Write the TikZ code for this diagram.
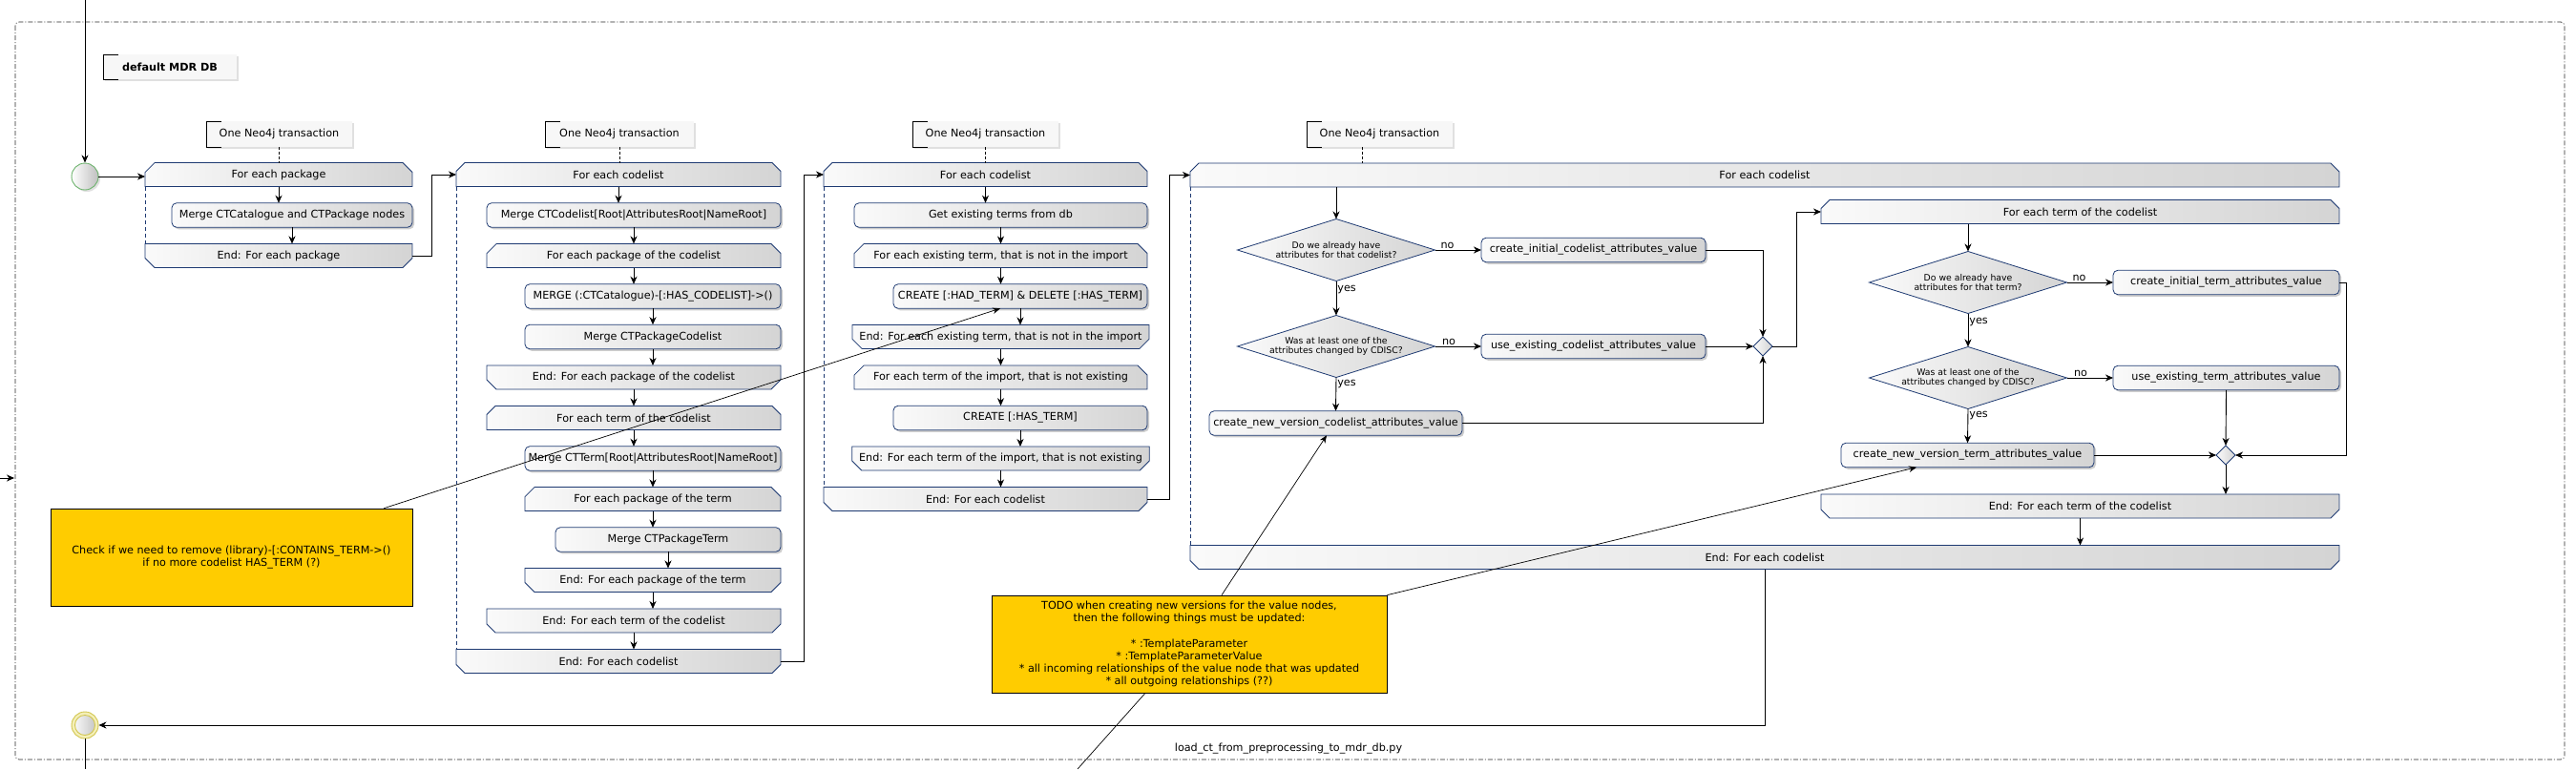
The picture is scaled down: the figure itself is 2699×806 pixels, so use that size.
\documentclass[tikz,border=0pt]{standalone}
\usepackage{fontspec}
\setmainfont{DejaVu Sans}
\usetikzlibrary{shapes.misc,shapes.geometric,arrows.meta,shadows,calc}
\definecolor{bordc}{HTML}{1E3A72}
\definecolor{boxl}{HTML}{FAFAFA}
\definecolor{boxr}{HTML}{D4D4D4}
\definecolor{notey}{HTML}{FFCC00}
\definecolor{hdrfill}{HTML}{F7F7F7}
\definecolor{startg}{HTML}{6DB36D}
\definecolor{endy}{HTML}{D2C650}
\definecolor{endyl}{HTML}{F4EFB8}
\newcommand\mfs{\fontsize{11.2}{13.3}\selectfont}
\newcommand\dfs{\fontsize{9.3}{10.8}\selectfont}
\newcommand\hdrbracket[1]{\draw[line width=0.8pt] ([xshift=16pt]#1.north west) -- (#1.north west) -- (#1.south west) -- ([xshift=16pt]#1.south west);}
\tikzset{
  arr/.style={line width=0.9pt, -{Stealth[length=8pt,width=7pt,inset=2.5pt]}},
  plain/.style={line width=0.9pt},
  notelink/.style={line width=0.7pt, -{Stealth[length=8pt,width=6.5pt,inset=2.5pt]}},
  noteline/.style={line width=0.7pt},
  base/.style={font=\mfs, inner sep=1pt, outer sep=0pt, draw=bordc, line width=0.8pt, left color=boxl, right color=boxr, text=black},
  loopstart/.style={base, chamfered rectangle, chamfered rectangle corners={north west,north east}, chamfered rectangle xsep=8pt, minimum height=25pt},
  loopend/.style={base, chamfered rectangle, chamfered rectangle corners={south west,south east}, chamfered rectangle xsep=8pt, minimum height=25pt},
  action/.style={base, rectangle, rounded corners=5pt, minimum height=25.5pt, drop shadow={shadow xshift=2pt,shadow yshift=-2pt,opacity=0.28,fill=black!70}},
  decision/.style={base, diamond, aspect=3, font=\dfs, align=center, inner sep=-6pt, minimum width=207pt, minimum height=65pt},
  merge/.style={base, diamond, inner sep=0pt, minimum width=20pt, minimum height=20pt},
  hdr/.style={font=\mfs, fill=hdrfill, inner sep=0pt, outer sep=0pt, minimum height=27pt, drop shadow={shadow xshift=2pt,shadow yshift=-2pt,opacity=0.2,fill=black!60}},
  yellownote/.style={font=\mfs, draw=black, line width=0.7pt, fill=notey, align=center, inner sep=0pt, minimum height=102pt},
  lbl/.style={font=\mfs, inner sep=1pt},
  txlink/.style={line width=0.8pt, dash pattern=on 3pt off 2pt},
  loopdash/.style={bordc, line width=0.8pt, dash pattern=on 4pt off 3pt},
  framebox/.style={line width=0.7pt, black!85, dash pattern=on 5pt off 2pt on 1pt off 2pt, rounded corners=4pt},
  startnode/.style={circle, minimum size=28pt, inner sep=0pt, draw=startg, line width=0.9pt, left color=white, right color=black!25, drop shadow={shadow xshift=2pt,shadow yshift=-2pt,opacity=0.2,fill=black!60}},
  endnode/.style={circle, minimum size=28pt, inner sep=0pt, draw=endy, line width=0.9pt, fill=endyl, path picture={\shade[left color=white, right color=black!25, draw=endy] (path picture bounding box.center) circle (10.5pt);}},
}
\begin{document}
\begin{tikzpicture}[x=1pt,y=-1pt]
\useasboundingbox (0,0) rectangle (2699,806);
\fill[white] (0,0) rectangle (2699,806);
% frame
\draw[framebox] (16,23) rectangle (2687,796);
\node[font=\mfs, inner sep=0pt] (framelabel) at (1350,785) {load\_ct\_from\_preprocessing\_to\_mdr\_db.py};
\node[hdr, minimum width=140pt, font=\mfs\bfseries, minimum height=26pt] (mdr) at (178,70) {default MDR DB};
\hdrbracket{mdr}

% start / end
\node[startnode] (S) at (89,185) {};
\node[endnode] (E) at (89,760) {};
\coordinate (top) at (89,0);
\coordinate (bot) at (89,806);
\coordinate (lin) at (0,501);
\coordinate (lout) at (15,501);

% column 1
\node[hdr, minimum width=153pt] (n1) at (292.5,140.5) {One Neo4j transaction};
\hdrbracket{n1}
\node[loopstart, minimum width=280pt] (L1s) at (292,183) {For each package};
\node[action, minimum width=252pt] (A1) at (306,225.5) {Merge CTCatalogue and CTPackage nodes};
\node[loopend, minimum width=280pt] (L1e) at (292,268) {End: For each package};

% column 2
\node[hdr, minimum width=156pt] (n2) at (649,140.5) {One Neo4j transaction};
\hdrbracket{n2}
\node[loopstart, minimum width=340pt] (L2s) at (648,183) {For each codelist};
\node[action, minimum width=308pt] (A2a) at (664,225.5) {Merge CTCodelist[Root|AttributesRoot|NameRoot]};
\node[loopstart, minimum width=308pt] (L2b) at (664,268) {For each package of the codelist};
\node[action, minimum width=268pt] (A2b) at (684,310.5) {MERGE (:CTCatalogue)-[:HAS\_CODELIST]->()};
\node[action, minimum width=268pt] (A2c) at (684,353) {Merge CTPackageCodelist};
\node[loopend, minimum width=308pt] (L2be) at (664,395.5) {End: For each package of the codelist};
\node[loopstart, minimum width=308pt] (L2c) at (664,438) {For each term of the codelist};
\node[action, minimum width=268pt] (A2d) at (684,480.5) {Merge CTTerm[Root|AttributesRoot|NameRoot]};
\node[loopstart, minimum width=268pt] (L2d) at (684,523) {For each package of the term};
\node[action, minimum width=236pt] (A2e) at (700,565.5) {Merge CTPackageTerm};
\node[loopend, minimum width=268pt] (L2de) at (684,608) {End: For each package of the term};
\node[loopend, minimum width=308pt] (L2ce) at (664,650.5) {End: For each term of the codelist};
\node[loopend, minimum width=340pt] (L2e) at (648,693) {End: For each codelist};

% column 3
\node[hdr, minimum width=153pt] (n3) at (1032.5,140.5) {One Neo4j transaction};
\hdrbracket{n3}
\node[loopstart, minimum width=339pt] (L3s) at (1032.5,183) {For each codelist};
\node[action, minimum width=307pt] (A3a) at (1048.5,225.5) {Get existing terms from db};
\node[loopstart, minimum width=307pt] (L3b) at (1048.5,268) {For each existing term, that is not in the import};
\node[action, minimum width=266pt] (A3b) at (1069,310.5) {CREATE [:HAD\_TERM] \& DELETE [:HAS\_TERM]};
\node[loopend, minimum width=307pt] (L3be) at (1048.5,353) {End: For each existing term, that is not in the import};
\node[loopstart, minimum width=307pt] (L3c) at (1048.5,395.5) {For each term of the import, that is not existing};
\node[action, minimum width=266pt] (A3c) at (1069,438) {CREATE [:HAS\_TERM]};
\node[loopend, minimum width=307pt] (L3ce) at (1048.5,480.5) {End: For each term of the import, that is not existing};
\node[loopend, minimum width=339pt] (L3e) at (1032.5,523) {End: For each codelist};

% column 4
\node[hdr, minimum width=153pt] (n4) at (1445.5,140.5) {One Neo4j transaction};
\hdrbracket{n4}
\node[loopstart, minimum width=1204pt] (L4s) at (1849,183.5) {For each codelist};
\node[decision] (D1) at (1400,262) {Do we already have\\attributes for that codelist?};
\node[action, minimum width=235pt] (A4a) at (1669.5,262) {create\_initial\_codelist\_attributes\_value};
\node[decision] (D2) at (1400,363) {Was at least one of the\\attributes changed by CDISC?};
\node[action, minimum width=235pt] (A4b) at (1669.5,363) {use\_existing\_codelist\_attributes\_value};
\node[action, minimum width=265pt] (A4c) at (1399.5,443.5) {create\_new\_version\_codelist\_attributes\_value};
\node[merge] (M1) at (1847,363) {};
\node[loopstart, minimum width=543pt] (L5s) at (2179.5,222) {For each term of the codelist};
\node[decision] (D3) at (2062,296) {Do we already have\\attributes for that term?};
\node[action, minimum width=237pt] (A5a) at (2332.5,296) {create\_initial\_term\_attributes\_value};
\node[decision] (D4) at (2062,396) {Was at least one of the\\attributes changed by CDISC?};
\node[action, minimum width=237pt] (A5b) at (2332.5,396) {use\_existing\_term\_attributes\_value};
\node[action, minimum width=265pt] (A5c) at (2061.5,477) {create\_new\_version\_term\_attributes\_value};
\node[merge] (M2) at (2332,477) {};
\node[loopend, minimum width=543pt] (L5e) at (2179.5,530.5) {End: For each term of the codelist};
\node[loopend, minimum width=1204pt] (L4e) at (1849,584) {End: For each codelist};

% yellow notes
\node[yellownote, minimum width=379pt] (N1) at (242.5,584) {Check if we need to remove (library)-[:CONTAINS\_TERM->()\\if no more codelist HAS\_TERM (?)};
\node[yellownote, minimum width=414pt] (N2) at (1246,675) {TODO when creating new versions for the value nodes,\\then the following things must be updated:\\[13.3pt]* :TemplateParameter\\* :TemplateParameterValue\\* all incoming relationships of the value node that was updated\\* all outgoing relationships (??)};
\coordinate (offbot) at (1129,806);

% transaction links
\draw[txlink] (n1.south) -- (n1.south |- L1s.north);
\draw[txlink] (n2.south) -- (n2.south |- L2s.north);
\draw[txlink] (n3.south) -- (n3.south |- L3s.north);
\draw[txlink] ([xshift=-18.5pt]n4.south) -- ([xshift=-18.5pt]n4.south |- L4s.north);

% loop dashed sides
\draw[loopdash] (L1s.south west) -- (L1e.north west);
\draw[loopdash] (L2s.south west) -- (L2e.north west);
\draw[loopdash] (L3s.south west) -- (L3e.north west);
\draw[loopdash] (L4s.south west) -- (L4e.north west);

% flow
\draw[arr] (top) -- (S.north);
\draw[arr] (lin) -- (lout);
\draw[arr] (S.east) -- (S.east -| L1s.west);
\draw[arr] (L1s.south) -- (L1s.south |- A1.north);
\draw[arr] (A1.south) -- (A1.south |- L1e.north);
\draw[arr] (L1e.east) -- ++(20,0) |- (L2s.west);

\foreach \a/\b in {L2s/A2a, A2a/L2b, L2b/A2b, A2b/A2c, A2c/L2be, L2be/L2c, L2c/A2d, A2d/L2d, L2d/A2e, A2e/L2de, L2de/L2ce, L2ce/L2e,
                   L3s/A3a, A3a/L3b, L3b/A3b, A3b/L3be, L3be/L3c, L3c/A3c, A3c/L3ce, L3ce/L3e}
  \draw[arr] (\a.south) -- (\a.south |- \b.north);
\draw[arr] (L2e.east) -- ++(24,0) |- (L3s.west);
\draw[arr] (L3e.east) -- ++(23,0) |- (L4s.west);

\draw[arr] (D1.north |- L4s.south) -- (D1.north);
\draw[arr] (D1.east) -- node[lbl, above, pos=0.27] {no} (A4a.west);
\draw[arr] (D1.south) -- node[lbl, right, pos=0.25] {yes} (D2.north);
\draw[arr] (D2.east) -- node[lbl, above, pos=0.3] {no} (A4b.west);
\draw[arr] (D2.south) -- node[lbl, right, pos=0.2] {yes} (A4c.north);
\draw[arr] (A4a.east) -| (M1.north);
\draw[arr] (A4b.east) -- (M1.west);
\draw[arr] (A4c.east) -| (M1.south);
\draw[arr] (M1.east) -- ++(25,0) |- (L5s.west);

\draw[arr] (D3.north |- L5s.south) -- (D3.north);
\draw[arr] (D3.east) -- node[lbl, above, pos=0.27] {no} (A5a.west);
\draw[arr] (D3.south) -- node[lbl, right, pos=0.25] {yes} (D4.north);
\draw[arr] (D4.east) -- node[lbl, above, pos=0.3] {no} (A5b.west);
\draw[arr] (D4.south) -- node[lbl, right, pos=0.2] {yes} (A5c.north);
\draw[arr] (A5a.east) -- ++(7,0) |- (M2.east);
\draw[arr] (A5b.south) -- (M2.north);
\draw[arr] (A5c.east) -- (M2.west);
\draw[arr] (M2.south) -- (M2.south |- L5e.north);
\draw[arr] (L5e.south) -- (L5e.south |- L4e.north);
\draw[arr] (L4e.south) |- (E.east);
\draw[plain] (E.south) -- (bot);

% note links
\draw[notelink] ([xshift=-30pt]N1.north east) -- ([xshift=-21pt]A3b.south);
\draw[notelink] ([xshift=34pt]N2.north) -- ([xshift=-9.5pt]A4c.south);
\draw[notelink] (N2.north east) -- ([xshift=-53.5pt]A5c.south);
\draw[noteline] ([xshift=-46pt]N2.south) -- (offbot);
\end{tikzpicture}
\end{document}
